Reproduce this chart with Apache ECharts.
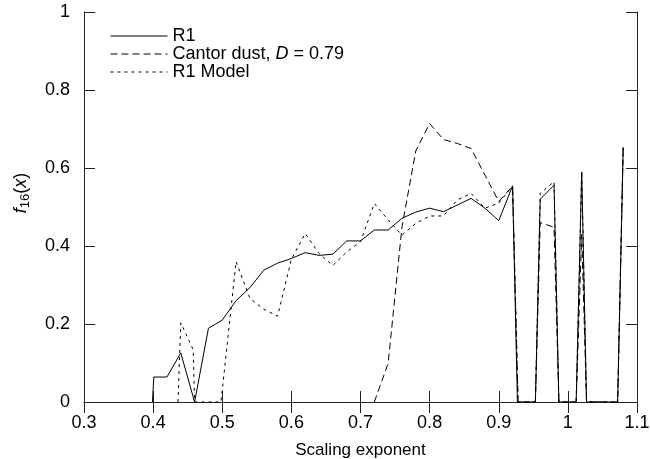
<!DOCTYPE html>
<html>
<head>
<meta charset="utf-8">
<script src="https://cdn.jsdelivr.net/npm/echarts@6/dist/echarts.min.js"></script>
<style>html,body{margin:0;padding:0;background:#fff;}#c{width:650px;height:459px;}</style>
</head>
<body>
<div id="c"></div>
<script>
// ---- data ----
const r1X = [0.399, 0.401, 0.42, 0.44, 0.46, 0.48, 0.50, 0.52, 0.54, 0.56, 0.58, 0.60, 0.62, 0.64, 0.66, 0.68, 0.70, 0.72, 0.74, 0.76, 0.78, 0.80, 0.82, 0.84, 0.86, 0.88, 0.90, 0.92, 0.927, 0.953, 0.96, 0.98, 0.987, 1.012, 1.02, 1.027, 1.072, 1.08];
const r1Y = [0, 0.064, 0.064, 0.126, 0, 0.189, 0.21, 0.26, 0.293, 0.338, 0.356, 0.368, 0.383, 0.376, 0.379, 0.413, 0.413, 0.441, 0.441, 0.471, 0.487, 0.497, 0.488, 0.505, 0.522, 0.497, 0.465, 0.554, 0, 0, 0.52, 0.556, 0, 0, 0.59, 0, 0, 0.65];

const cantorX = [0.72, 0.74, 0.76, 0.78, 0.80, 0.82, 0.84, 0.86, 0.88, 0.90, 0.92, 0.928, 0.953, 0.96, 0.98, 0.987, 1.012, 1.02, 1.027, 1.072, 1.08];
const cantorY = [0, 0.099, 0.449, 0.644, 0.714, 0.673, 0.663, 0.65, 0.582, 0.514, 0.554, 0, 0, 0.46, 0.448, 0, 0, 0.43, 0, 0, 0.655];

const modelX = [0.436, 0.44, 0.458, 0.46, 0.498, 0.50, 0.52, 0.54, 0.56, 0.58, 0.60, 0.62, 0.64, 0.66, 0.68, 0.70, 0.72, 0.74, 0.76, 0.78, 0.80, 0.82, 0.84, 0.86, 0.88, 0.90, 0.92, 0.928, 0.953, 0.96, 0.98, 0.987, 1.012, 1.02, 1.027, 1.072, 1.08];
const modelY = [0, 0.203, 0.134, 0, 0, 0.03, 0.36, 0.266, 0.238, 0.22, 0.366, 0.432, 0.381, 0.35, 0.385, 0.411, 0.509, 0.467, 0.428, 0.458, 0.477, 0.477, 0.518, 0.535, 0.497, 0.51, 0.554, 0, 0, 0.535, 0.565, 0, 0, 0.59, 0, 0, 0.655];

const seriesNames = ['R1', 'Cantor dust, D = 0.79', 'R1 Model'];
const xTickLabels = ['0.3', '0.4', '0.5', '0.6', '0.7', '0.8', '0.9', '1', '1.1'];
const yTickLabels = ['0', '0.2', '0.4', '0.6', '0.8', '1'];
const xAxisTitle = 'Scaling exponent';

// ---- build ----
const pairs = (xs, ys) => xs.map((x, i) => [x, ys[i]]);
const FONT = '"Liberation Sans", Arial, sans-serif';
const FS = 17;
const LFS = 18;
const TFS = 18;
const axisLineStyle = { color: '#222', width: 1 };
const xMin = 0.3, xMax = 1.1, xInt = 0.1;
const yMin = 0, yMax = 1, yInt = 0.2;

const xLab = v => { const i = Math.round((v - xMin) / xInt); return xTickLabels[i] !== undefined ? xTickLabels[i] : ''; };
const yLab = v => { const i = Math.round((v - yMin) / yInt); return yTickLabels[i] !== undefined ? yTickLabels[i] : ''; };

const baseX = {
  type: 'value', min: xMin, max: xMax, interval: xInt,
  axisLine: { show: true, lineStyle: axisLineStyle },
  axisTick: { show: true, inside: true, length: 11, lineStyle: axisLineStyle },
  splitLine: { show: false }
};
const baseY = {
  type: 'value', min: yMin, max: yMax, interval: yInt,
  axisLine: { show: true, lineStyle: axisLineStyle },
  axisTick: { show: true, inside: true, length: 11, lineStyle: axisLineStyle },
  splitLine: { show: false }
};

const chart = echarts.init(document.getElementById('c'), null, { renderer: 'canvas' });
const lineSeries = (name, data, type) => ({
  name, type: 'line', data, xAxisIndex: 0, yAxisIndex: 0,
  symbol: 'none', animation: false, silent: true,
  itemStyle: { color: '#000' },
  lineStyle: { color: '#000', width: 1, type }
});

chart.setOption({
  animation: false,
  backgroundColor: '#fff',
  grid: { left: 84, right: 13, top: 12, bottom: 57, containLabel: false, outerBoundsMode: 'none' },
  textStyle: { fontFamily: FONT },
  legend: {
    show: true, orient: 'vertical', left: 105, top: 22,
    itemWidth: 57, itemHeight: 18, itemGap: 0,
    itemStyle: { opacity: 0 },
    lineStyle: { width: 1 },
    data: seriesNames,
    textStyle: {
      fontFamily: FONT, fontSize: LFS, color: '#000',
      rich: { i: { fontStyle: 'italic', fontFamily: FONT, fontSize: LFS, color: '#000' } }
    },
    formatter: n => n === seriesNames[1] ? 'Cantor dust, {i|D} = 0.79' : n
  },
  graphic: [{
    type: 'text', x: 21, y: 193, rotation: Math.PI / 2, silent: true,
    style: {
      text: '{i|f}{s|16}{n|(}{i|x}{n|)}', align: 'center', verticalAlign: 'middle',
      rich: {
        i: { fontStyle: 'italic', fontFamily: FONT, fontSize: LFS, fill: '#000', lineHeight: 22 },
        n: { fontFamily: FONT, fontSize: LFS, fill: '#000', lineHeight: 22 },
        s: { fontFamily: FONT, fontSize: 13, fill: '#000', verticalAlign: 'bottom', lineHeight: 22 }
      }
    }
  }],
  xAxis: [
    Object.assign({}, baseX, {
      position: 'bottom',
      name: xAxisTitle, nameLocation: 'middle', nameGap: 40,
      nameTextStyle: { fontFamily: FONT, fontSize: FS, color: '#000' },
      axisLabel: { show: true, margin: 12, fontFamily: FONT, fontSize: TFS, color: '#000', formatter: xLab }
    }),
    Object.assign({}, baseX, { position: 'top', axisLabel: { show: false } })
  ],
  yAxis: [
    Object.assign({}, baseY, {
      position: 'left',
      axisLabel: { show: true, margin: 14, fontFamily: FONT, fontSize: TFS, color: '#000', formatter: yLab }
    }),
    Object.assign({}, baseY, { position: 'right', axisLabel: { show: false } })
  ],
  series: [
    lineSeries(seriesNames[0], pairs(r1X, r1Y), 'solid'),
    lineSeries(seriesNames[1], pairs(cantorX, cantorY), [7, 4]),
    lineSeries(seriesNames[2], pairs(modelX, modelY), [3, 4])
  ]
});
</script>
</body>
</html>
